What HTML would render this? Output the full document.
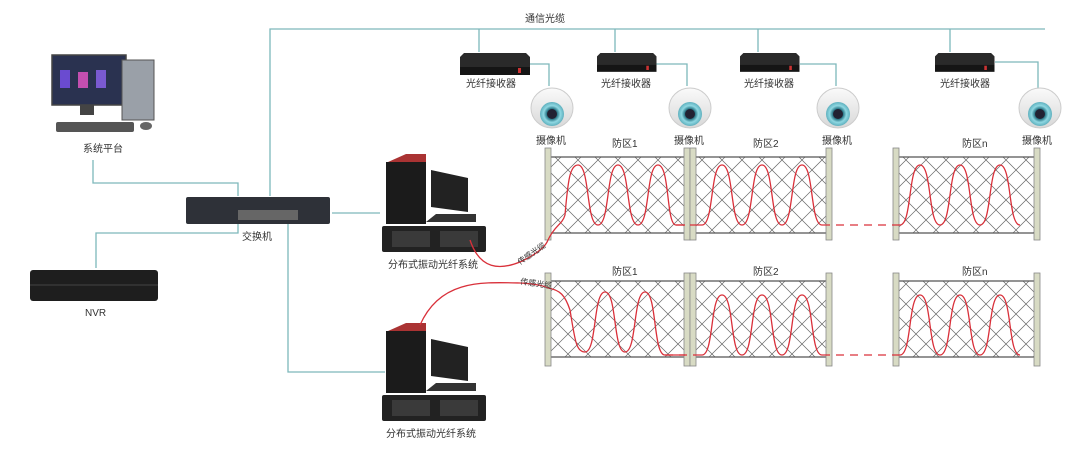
<!DOCTYPE html>
<html><head><meta charset="utf-8"><style>
body{margin:0;background:#fff;width:1080px;height:451px;overflow:hidden}
svg{display:block}
text{font-family:"Liberation Sans","Noto Sans CJK SC",sans-serif;font-size:10px;fill:#333}
</style></head><body>
<svg width="1080" height="451" viewBox="0 0 1080 451">
<defs>
<pattern id="mesh" width="20" height="20" patternUnits="userSpaceOnUse">
<path d="M0 0L20 20M20 0L0 20" stroke="#666" stroke-width="0.7"/>
</pattern>
<radialGradient id="lens" cx="50%" cy="50%" r="50%">
<stop offset="0" stop-color="#1a4a55"/><stop offset="0.45" stop-color="#2e7c8c"/><stop offset="0.7" stop-color="#8fd8e2"/><stop offset="1" stop-color="#5fb0be"/>
</radialGradient>
<linearGradient id="dome" x1="0" y1="0" x2="0" y2="1"><stop offset="0" stop-color="#fafafa"/><stop offset="1" stop-color="#d8d8d8"/></linearGradient>
<g id="cam">
<ellipse cx="0" cy="-2" rx="21" ry="20" fill="url(#dome)" stroke="#ccc"/>
<circle cx="0" cy="4" r="12" fill="url(#lens)"/>
<circle cx="0" cy="4" r="5" fill="#223"/>
</g>
<g id="rcv">
<path d="M4 0H66L70 4V22H0V4Z" fill="#2a2a2a"/>
<rect x="0" y="14" width="70" height="8" fill="#151515"/>
<rect x="58" y="15" width="3" height="5" fill="#c33"/>
</g>
<g id="srv">
<rect x="0" y="10" width="40" height="62" fill="#1b1b1b"/>
<path d="M2 10L20 2H40L40 10Z" fill="#a33"/>
<path d="M45 18L82 26V60L45 55Z" fill="#222"/>
<path d="M50 62H90V70H40Z" fill="#333"/>
<rect x="-4" y="74" width="104" height="26" fill="#222" rx="2"/>
<rect x="6" y="79" width="38" height="16" fill="#3a3a3a"/>
<rect x="54" y="79" width="38" height="16" fill="#3a3a3a"/>
</g>
<g id="fence">
<rect x="0" y="7" width="140" height="76" fill="url(#mesh)"/>
<line x1="0" y1="7" x2="140" y2="7" stroke="#555" stroke-width="1.2"/>
<line x1="0" y1="83" x2="140" y2="83" stroke="#555" stroke-width="1.2"/>
</g>
</defs>

<g stroke="#7db8bb" stroke-width="1.3" fill="none">
<path d="M93 160V183H238V196"/>
<path d="M96 268V233H238V223"/>
<path d="M332 213H380"/>
<path d="M288 223V372H385"/>
<path d="M270 196V29H1045"/>
<path d="M479 29V52"/><path d="M615 29V52"/><path d="M758 29V52"/><path d="M950 29V52"/>
<path d="M530 64H549V86"/><path d="M656 64H687V86"/><path d="M800 64H836V86"/><path d="M995 62H1038V88"/>
</g>
<text x="525" y="22">通信光缆</text>

<rect x="52" y="55" width="74" height="50" fill="#2a3250" stroke="#444" stroke-width="1.5"/>
<rect x="60" y="70" width="10" height="18" fill="#6a4bd0"/><rect x="78" y="72" width="10" height="16" fill="#c34fb0"/><rect x="96" y="70" width="10" height="18" fill="#7a5ad0"/>
<rect x="80" y="105" width="14" height="10" fill="#444"/>
<rect x="122" y="60" width="32" height="60" fill="#9aa0a8" stroke="#555"/>
<rect x="56" y="122" width="78" height="10" fill="#555" rx="2"/>
<ellipse cx="146" cy="126" rx="6" ry="4" fill="#666"/>
<text x="83" y="152">系统平台</text>

<rect x="186" y="197" width="144" height="27" fill="#2e3138" rx="2"/>
<rect x="238" y="210" width="60" height="10" fill="#666"/>
<text x="242" y="240">交换机</text>

<rect x="30" y="270" width="128" height="31" fill="#1e1e1e" rx="3"/>
<line x1="30" y1="285" x2="158" y2="285" stroke="#444"/>
<text x="85" y="316">NVR</text>

<use href="#srv" x="386" y="152"/>
<text x="388" y="268">分布式振动光纤系统</text>
<use href="#srv" x="386" y="321"/>
<text x="386" y="437">分布式振动光纤系统</text>

<use href="#rcv" x="460" y="53"/><text x="466" y="87">光纤接收器</text>
<use href="#rcv" x="597" y="53" transform="translate(597 53) scale(0.85) translate(-597 -53)"/><text x="601" y="87">光纤接收器</text>
<use href="#rcv" x="740" y="53" transform="translate(740 53) scale(0.85) translate(-740 -53)"/><text x="744" y="87">光纤接收器</text>
<use href="#rcv" x="935" y="53" transform="translate(935 53) scale(0.85) translate(-935 -53)"/><text x="940" y="87">光纤接收器</text>
<use href="#cam" x="552" y="110"/><text x="536" y="144">摄像机</text>
<use href="#cam" x="690" y="110"/><text x="674" y="144">摄像机</text>
<use href="#cam" x="838" y="110"/><text x="822" y="144">摄像机</text>
<use href="#cam" x="1040" y="110"/><text x="1022" y="144">摄像机</text>

<use href="#fence" x="548" y="150"/>
<use href="#fence" x="692" y="150"/>
<use href="#fence" x="896" y="150"/>
<use href="#fence" x="548" y="274"/>
<use href="#fence" x="692" y="274"/>
<use href="#fence" x="896" y="274"/>
<g fill="#d8dbc4" stroke="#888" stroke-width="0.8">
<rect x="545" y="148" width="6" height="92"/><rect x="684" y="148" width="6" height="92"/><rect x="690" y="148" width="6" height="92"/><rect x="826" y="148" width="6" height="92"/><rect x="893" y="148" width="6" height="92"/><rect x="1034" y="148" width="6" height="92"/>
<rect x="545" y="273" width="6" height="93"/><rect x="684" y="273" width="6" height="93"/><rect x="690" y="273" width="6" height="93"/><rect x="826" y="273" width="6" height="93"/><rect x="893" y="273" width="6" height="93"/><rect x="1034" y="273" width="6" height="93"/>
</g>
<text x="612" y="147">防区1</text><text x="753" y="147">防区2</text><text x="962" y="147">防区n</text>
<text x="612" y="275">防区1</text><text x="753" y="275">防区2</text><text x="962" y="275">防区n</text>

<g stroke="#d9303a" stroke-width="1.3" fill="none">
<path d="M548 240C555 225 562 225 565 215C568 180 570 165 578 165C590 165 586 225 598 225C610 225 606 165 618 165C630 165 626 225 638 225C650 225 646 165 658 165C670 165 666 225 676 225H685"/>
<path d="M695 225H702C714 225 710 165 722 165C734 165 730 225 742 225C754 225 750 165 762 165C774 165 770 225 782 225C794 225 790 165 802 165C814 165 810 225 822 225"/>
<path d="M900 225C912 225 908 165 920 165C932 165 928 225 940 225C952 225 948 165 960 165C972 165 968 225 980 225C992 225 988 165 1000 165C1012 165 1008 225 1020 225"/>
<path d="M548 288C560 290 565 295 570 310C575 340 576 352 585 352C597 352 593 292 605 292C617 292 613 352 625 352C637 352 633 292 645 292C657 292 653 355 665 355H685"/>
<path d="M695 355H702C714 355 710 295 722 295C734 295 730 355 742 355C754 355 750 295 762 295C774 295 770 355 782 355C794 355 790 295 802 295C814 295 810 355 822 355"/>
<path d="M900 355C912 355 908 295 920 295C932 295 928 355 940 355C952 355 948 295 960 295C972 295 968 355 980 355C992 355 988 295 1000 295C1012 295 1008 355 1020 355"/>
<path d="M470 240C480 270 500 270 520 262C535 255 545 248 548 240"/>
<path d="M420 325C440 280 480 282 520 283C535 284 545 286 548 288"/>
</g>
<g stroke="#d9303a" stroke-width="1.3" fill="none" stroke-dasharray="8 6">
<path d="M676 225H695"/><path d="M822 225H900"/>
<path d="M665 355H695"/><path d="M822 355H900"/>
</g>
<text x="520" y="265" style="font-size:8px" transform="rotate(-35 520 265)">传感光缆</text>
<text x="520" y="284" style="font-size:8px" transform="rotate(8 520 284)">传感光缆</text>
</svg>
</body></html>
